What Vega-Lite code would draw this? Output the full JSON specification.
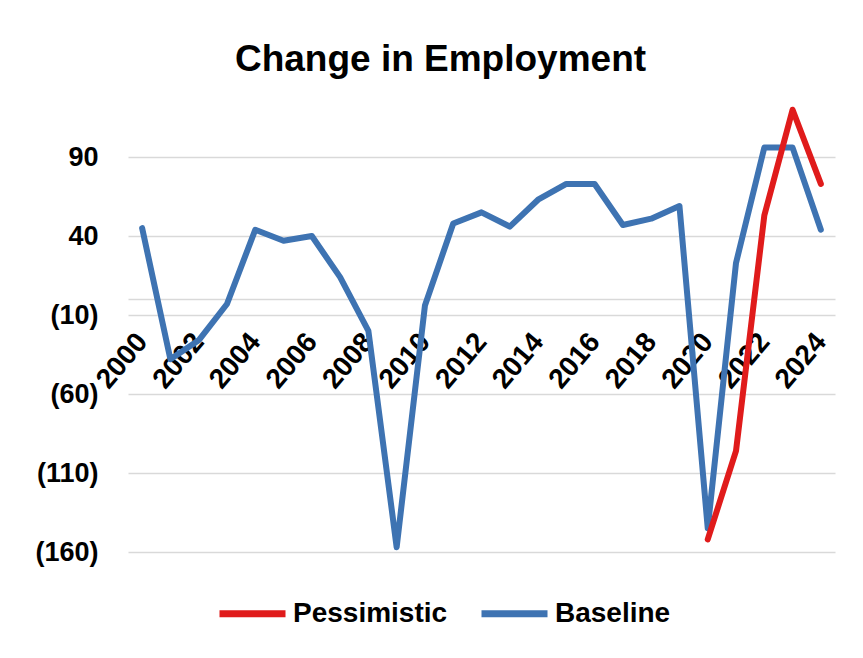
{
  "$schema": "https://vega.github.io/schema/vega-lite/v6.json",
  "autosize": "none",
  "width": 707,
  "height": 466,
  "padding": {"left": 128, "top": 86, "right": 28, "bottom": 106},
  "background": "white",
  "config": {"view": {"stroke": null}},
  "title": {
    "text": "Change in Employment",
    "font": "Liberation Sans",
    "fontSize": 37,
    "fontWeight": "bold",
    "color": "#000000",
    "anchor": "middle",
    "baseline": "alphabetic",
    "offset": -22,
    "dx": -41
  },
  "data": {
    "values": [
      {"year": 2000, "value": 45, "series": "Baseline"},
      {"year": 2001, "value": -38, "series": "Baseline"},
      {"year": 2002, "value": -26, "series": "Baseline"},
      {"year": 2003, "value": -3, "series": "Baseline"},
      {"year": 2004, "value": 44, "series": "Baseline"},
      {"year": 2005, "value": 37, "series": "Baseline"},
      {"year": 2006, "value": 40, "series": "Baseline"},
      {"year": 2007, "value": 14, "series": "Baseline"},
      {"year": 2008, "value": -20, "series": "Baseline"},
      {"year": 2009, "value": -157, "series": "Baseline"},
      {"year": 2010, "value": -4, "series": "Baseline"},
      {"year": 2011, "value": 48, "series": "Baseline"},
      {"year": 2012, "value": 55, "series": "Baseline"},
      {"year": 2013, "value": 46, "series": "Baseline"},
      {"year": 2014, "value": 63, "series": "Baseline"},
      {"year": 2015, "value": 73, "series": "Baseline"},
      {"year": 2016, "value": 73, "series": "Baseline"},
      {"year": 2017, "value": 47, "series": "Baseline"},
      {"year": 2018, "value": 51, "series": "Baseline"},
      {"year": 2019, "value": 59, "series": "Baseline"},
      {"year": 2020, "value": -145, "series": "Baseline"},
      {"year": 2021, "value": 23, "series": "Baseline"},
      {"year": 2022, "value": 96, "series": "Baseline"},
      {"year": 2023, "value": 96, "series": "Baseline"},
      {"year": 2024, "value": 44, "series": "Baseline"},
      {"year": 2020, "value": -152, "series": "Pessimistic"},
      {"year": 2021, "value": -96, "series": "Pessimistic"},
      {"year": 2022, "value": 53, "series": "Pessimistic"},
      {"year": 2023, "value": 120, "series": "Pessimistic"},
      {"year": 2024, "value": 73, "series": "Pessimistic"}
    ]
  },
  "encoding": {
    "x": {
      "field": "year",
      "type": "quantitative",
      "scale": {"domain": [1999.5, 2024.5], "nice": false, "zero": false},
      "axis": {
        "title": null,
        "orient": "bottom",
        "offset": -253,
        "values": [2000, 2002, 2004, 2006, 2008, 2010, 2012, 2014, 2016, 2018, 2020, 2022, 2024],
        "format": "d",
        "grid": false,
        "ticks": false,
        "domain": true,
        "domainColor": "#d9d9d9",
        "domainWidth": 1.5,
        "labelAngle": -50,
        "labelAlign": "right",
        "labelBaseline": "middle",
        "labelPadding": 38,
        "labelFont": "Liberation Sans",
        "labelFontSize": 28,
        "labelFontWeight": "bold",
        "labelColor": "#000000",
        "labelFlush": false,
        "labelOverlap": false
      }
    },
    "y": {
      "field": "value",
      "type": "quantitative",
      "scale": {"domain": [-160, 135], "nice": false, "zero": false},
      "axis": {
        "title": null,
        "values": [90, 40, -10, -60, -110, -160],
        "labelExpr": "datum.value < 0 ? '(' + abs(datum.value) + ')' : '' + datum.value",
        "grid": true,
        "gridColor": "#d9d9d9",
        "gridWidth": 1.5,
        "ticks": false,
        "domain": false,
        "labelPadding": 30,
        "labelFont": "Liberation Sans",
        "labelFontSize": 27,
        "labelFontWeight": "bold",
        "labelColor": "#000000",
        "labelFlush": false,
        "labelOverlap": false
      }
    },
    "color": {
      "field": "series",
      "type": "nominal",
      "scale": {"domain": ["Pessimistic", "Baseline"], "range": ["#e01b1b", "#3e73b2"]},
      "legend": {
        "title": null,
        "orient": "none",
        "direction": "horizontal",
        "legendX": 88,
        "legendY": 491,
        "symbolType": "stroke",
        "symbolSize": 4356,
        "symbolStrokeWidth": 7,
        "labelFont": "Liberation Sans",
        "labelFontSize": 28,
        "labelFontWeight": "bold",
        "labelColor": "#000000",
        "labelOffset": 4,
        "labelLimit": 400,
        "columnPadding": 19
      }
    }
  },
  "layer": [
    {
      "transform": [{"filter": "datum.series === 'Baseline'"}],
      "mark": {"type": "line", "strokeWidth": 6, "strokeJoin": "round", "strokeCap": "round"}
    },
    {
      "transform": [{"filter": "datum.series === 'Pessimistic'"}],
      "mark": {"type": "line", "strokeWidth": 6, "strokeJoin": "round", "strokeCap": "round"}
    }
  ]
}
